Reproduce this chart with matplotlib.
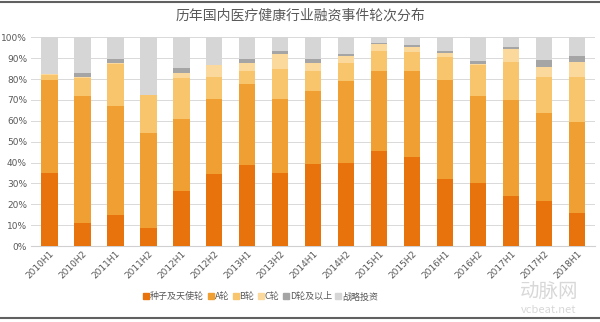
import matplotlib
matplotlib.use("Agg")
import matplotlib.pyplot as plt
import numpy as np
from matplotlib.lines import Line2D

plt.rcParams['font.family'] = ['Noto Sans CJK SC', 'DejaVu Sans']

periods = ["2010H1", "2010H2", "2011H1", "2011H2", "2012H1", "2012H2", "2013H1", "2013H2",
           "2014H1", "2014H2", "2015H1", "2015H2", "2016H1", "2016H2", "2017H1", "2017H2", "2018H1"]
seed = [35.1, 10.9, 14.9, 8.6, 26.5, 34.7, 38.7, 35.1, 39.1, 39.9, 45.5, 42.7, 32.3, 30.2, 24.0, 21.4, 16.0]
round_a = [44.5, 61.1, 52.4, 45.7, 34.2, 35.6, 38.8, 35.3, 35.2, 39.0, 38.2, 41.3, 47.3, 41.8, 46.0, 42.5, 43.4]
round_b = [2.4, 8.4, 19.9, 18.2, 19.7, 10.5, 6.2, 14.3, 9.7, 8.6, 9.9, 9.1, 11.1, 14.7, 18.0, 16.9, 21.4]
round_c = [0.4, 0.6, 0.3, 0.0, 2.3, 5.9, 3.8, 7.3, 3.5, 3.5, 3.2, 2.1, 2.0, 0.3, 6.4, 4.8, 7.5]
round_d = [0.0, 2.0, 2.0, 0.0, 2.4, 0.0, 2.3, 1.6, 2.3, 1.0, 0.6, 1.3, 0.9, 1.8, 0.8, 3.5, 2.7]
strategic = [17.6, 17.0, 10.5, 27.5, 14.9, 13.3, 10.2, 6.4, 10.2, 8.0, 2.6, 3.5, 6.4, 11.2, 4.8, 10.9, 9.0]

series_names = ["种子及天使轮", "A轮", "B轮", "C轮", "D轮及以上", "战略投资"]
colors = ["#E8720C", "#F0A033", "#F8C46C", "#FBD89C", "#A5A5A5", "#D6D6D6"]
title = "历年国内医疗健康行业融资事件轮次分布"

fig = plt.figure(figsize=(6.0, 3.22), dpi=100)
ax = fig.add_axes([0.052, 0.236, 0.940, 0.648])

x = np.arange(len(periods))
bottom = np.zeros(len(periods))
all_series = [seed, round_a, round_b, round_c, round_d, strategic]
for vals, col, name in zip(all_series, colors, series_names):
    v = np.array(vals) / 100.0
    ax.bar(x, v, width=0.5, bottom=bottom, color=col, label=name, zorder=3, linewidth=0)
    bottom += v

ax.set_xlim(-0.55, len(periods) - 0.45)
ax.set_ylim(0, 1.0)
ax.set_yticks(np.arange(0, 1.01, 0.1))
ax.set_yticklabels([f"{int(round(t*100))}%" for t in np.arange(0, 1.01, 0.1)],
                   fontsize=6.5, color="#595959", family=['DejaVu Sans'])
ax.yaxis.grid(True, color="#D9D9D9", linewidth=0.7, zorder=0)
ax.tick_params(axis='y', length=0, pad=3)
ax.tick_params(axis='x', length=0, pad=2)
ax.set_xticks(x)
ax.set_xticklabels(periods, rotation=45, ha='right', rotation_mode='anchor',
                   fontsize=6.5, color="#595959", family=['DejaVu Sans'])
for s in ["top", "right", "left"]:
    ax.spines[s].set_visible(False)
ax.spines["bottom"].set_color("#D0D0D0")

fig.text(0.5, 0.953, title, ha='center', va='center', fontsize=10, color="#595959")

handles = [Line2D([0], [0], marker='s', linestyle='none', markersize=4.5,
                  markerfacecolor=c, markeredgecolor=c) for c in colors]
fig.legend(handles, series_names, loc='center', bbox_to_anchor=(0.435, 0.078), ncol=6,
           frameon=False, fontsize=6.5, handlelength=0.6, handletextpad=0.15,
           columnspacing=0.4, labelcolor="#595959")

# watermark
fig.text(0.915, 0.095, "动脉网", ha='center', va='center', fontsize=14, color="#D8D8D8")
fig.text(0.915, 0.038, "vcbeat.net", ha='center', va='center', fontsize=8, color="#D8D8D8")

# frame lines top and bottom
fig.add_artist(Line2D([0, 1], [0.995, 0.995], color="#606060", linewidth=1.5, transform=fig.transFigure))
fig.add_artist(Line2D([0, 1], [0.012, 0.012], color="#606060", linewidth=1.5, transform=fig.transFigure))

fig.savefig("out.png", dpi=100)
